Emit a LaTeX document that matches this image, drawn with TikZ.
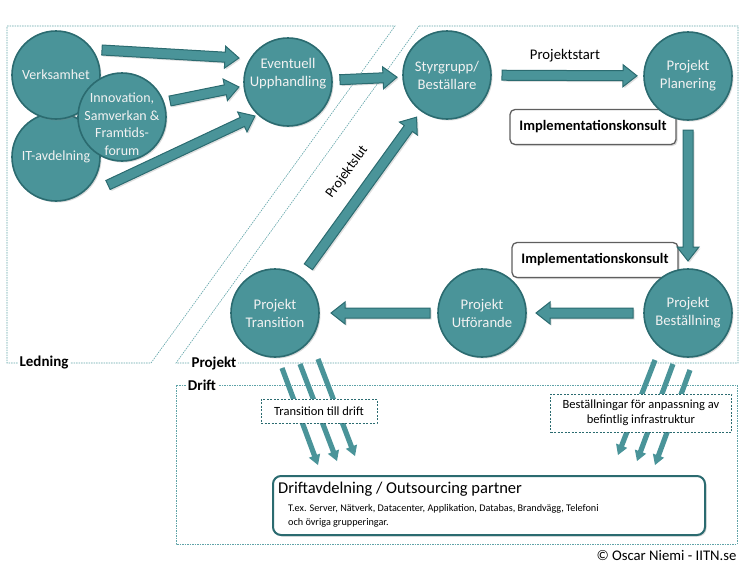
\documentclass[tikz,border=0pt]{standalone}
\usepackage{fontspec}
\setmainfont{Carlito}
\usetikzlibrary{positioning,calc,shadows}

\definecolor{tealfill}{HTML}{4A9499}
\definecolor{tealdark}{HTML}{2B6B70}
\definecolor{regionline}{HTML}{5FA3A8}
\definecolor{boxgray}{HTML}{5F5F5F}

\tikzset{
  circ/.style={circle, fill=tealfill, draw=tealdark, line width=1.6pt, minimum size=88pt,
    inner sep=0pt, text=white!95!black, align=center, font=\fontsize{14.7}{18}\selectfont,
    drop shadow={opacity=0.3, shadow xshift=1.5pt, shadow yshift=-1.5pt}},
  circ text/.style={text=white!95!black, align=center, inner sep=0pt, font=\fontsize{14.7}{18}\selectfont},
  small text/.style={font=\fontsize{14}{17.5}\selectfont},
  fat arrow/.style={fill=tealfill, draw=tealdark, line width=1pt, line join=miter,
    drop shadow={opacity=0.25, shadow xshift=1.5pt, shadow yshift=-1.5pt}},
  thin arrow/.style={fill=tealfill},
  region/.style={draw=regionline, line width=0.6pt, dash pattern=on 1.5pt off 1pt},
  region label/.style={fill=white, font=\bfseries\fontsize{15}{17}\selectfont, inner sep=2pt},
  konsult/.style={rectangle, rounded corners=5pt, draw=boxgray, line width=1.3pt, fill=white,
    minimum width=166pt, minimum height=35pt, font=\bfseries\fontsize{14.5}{16}\selectfont,
    drop shadow={opacity=0.3, shadow xshift=1.5pt, shadow yshift=-1.5pt}},
  driftlabel/.style={draw=tealdark, line width=0.7pt, dash pattern=on 2pt off 1.5pt,
    fill=white, font=\fontsize{12.5}{15}\selectfont, align=center},
  plain text/.style={font=\fontsize{14.7}{17}\selectfont},
}

% block arrow: style, shaft half width, head half width, head length, from, to
\newcommand{\blockarrow}[6]{%
  \coordinate (hb) at ($(#6)!#4!(#5)$);
  \path[#1] ($(#5)!#2!90:(#6)$) -- ($(hb)!#2!90:(#6)$) -- ($(hb)!#3!90:(#6)$) -- (#6)
    -- ($(hb)!#3!-90:(#6)$) -- ($(hb)!#2!-90:(#6)$) -- ($(#5)!#2!-90:(#6)$) -- cycle;}
\newcommand{\fatarrow}[2]{\blockarrow{fat arrow}{5pt}{11pt}{14pt}{#1}{#2}}
\newcommand{\thinarrow}[2]{\blockarrow{thin arrow}{2.6pt}{6pt}{10pt}{#1}{#2}}

\begin{document}
\begin{tikzpicture}[x=1pt, y=-1pt]
\useasboundingbox (0,0) rectangle (750,563);

% regions
\draw[region] (7,26) -- (395,26) -- (151,363) -- (7,363) -- cycle;
\node[region label] (ledning) at (44,363) {Ledning};
\draw[region] (419,26) -- (738,26) -- (738,363) -- (176,363) -- cycle;
\node[region label] (projekt) at (214,363) {Projekt};
\draw[region] (176,385) rectangle (737,544);
\node[region label] (drift) at (202,385) {Drift};

% consultant boxes (under the circles)
\node[konsult] (konsult1) at (593,127) {Implementationskonsult};
\node[konsult] (konsult2) at (595,260) {Implementationskonsult};

% circles
\node[circ, small text] (itavd) at (56,157) {IT-avdelning};
\node[circ, small text] (verk) at (56,75) {Verksamhet};
\node[circ] (innov) at (122,117) {};
\node[circ text, small text] (innovtext) at ([yshift=-7pt]innov.center) {Innovation,\\Samverkan \&\\Framtids-\\forum};
\node[circ] (upph) at (288,82) {};
\node[circ text] (upphtext) at ([yshift=8pt]upph.center) {Eventuell\\Upphandling};
\node[circ] (styr) at (447,75) {Styrgrupp/\\Beställare};
\node[circ] (plan) at (688,76) {Projekt\\Planering};
\node[circ] (best) at (688,313) {Projekt\\Beställning};
\node[circ] (utf) at (482,313) {Projekt\\Utförande};
\node[circ] (trans) at (275,313) {Projekt\\Transition};

% fat arrows
\coordinate (a1s) at (102,50);  \coordinate (a1e) at (239,58);
\coordinate (a2s) at (170,101); \coordinate (a2e) at (239,87);
\coordinate (a3s) at (108,185); \coordinate (a3e) at (255,116);
\fatarrow{a1s}{a1e}
\fatarrow{a2s}{a2e}
\fatarrow{a3s}{a3e}

\coordinate (b1s) at ($(upph)!52pt!(styr)$);  \coordinate (b1e) at ($(styr)!50pt!(upph)$);
\coordinate (b2s) at ($(styr)!55pt!(plan)$);  \coordinate (b2e) at ($(plan)!51pt!(styr)$);
\coordinate (b3s) at ($(plan)!54pt!(best)$);  \coordinate (b3e) at ($(best)!52pt!(plan)$);
\coordinate (b4s) at ($(best)!55pt!(utf)$);   \coordinate (b4e) at ($(utf)!54pt!(best)$);
\coordinate (b5s) at ($(utf)!52pt!(trans)$);  \coordinate (b5e) at ($(trans)!56pt!(utf)$);
\coordinate (b6s) at ($(trans)!57pt!(styr)$); \coordinate (b6e) at ($(styr)!52pt!(trans)$);
\foreach \k in {1,...,6} {
  \fatarrow{b\k s}{b\k e}
}

\node[plain text] (start) at (565,56) {Projektstart};
\node[font=\fontsize{14}{15}\selectfont, rotate=54] (slut) at (347,172) {Projektslut};

% thin arrows down to drift
\coordinate (t1s) at (282,368); \coordinate (t1e) at (318,465);
\coordinate (t2s) at (300,364); \coordinate (t2e) at (337,461);
\coordinate (t3s) at (318,359); \coordinate (t3e) at (355,456);
\coordinate (u1s) at (655,360); \coordinate (u1e) at (618,455);
\coordinate (u2s) at (673,364); \coordinate (u2e) at (637,461);
\coordinate (u3s) at (690,370); \coordinate (u3e) at (655,465);
\foreach \k in {1,2,3} {
  \thinarrow{t\k s}{t\k e}
  \thinarrow{u\k s}{u\k e}
}

\node[driftlabel, minimum width=116pt, minimum height=24pt] (translabel) at (319,411) {Transition till drift};
\node[driftlabel, minimum width=181pt, minimum height=38pt] (bestlabel) at (641,413)
  {Beställningar för anpassning av\\befintlig infrastruktur};

% drift box
\node[rectangle, rounded corners=8pt, draw=tealdark, line width=2pt, fill=white,
  minimum width=432pt, minimum height=59pt,
  drop shadow={opacity=0.3, shadow xshift=1.5pt, shadow yshift=-1.5pt}] (driftbox) at (489,505.5) {};
\node[anchor=base west, inner sep=0pt, font=\fontsize{16.5}{19}\selectfont] (drifttitle)
  at ([xshift=6pt, yshift=-18pt]driftbox.north west) {Driftavdelning / Outsourcing partner};
\node[anchor=north west, inner sep=0pt, align=left, font=\fontsize{10.2}{14}\selectfont] (driftsub)
  at ([xshift=16pt, yshift=-29pt]driftbox.north west)
  {T.ex. Server, Nätverk, Datacenter, Applikation, Databas, Brandvägg, Telefoni\\och övriga grupperingar.};

\node[anchor=east, plain text] (copy) at (740,555) {© Oscar Niemi - IITN.se};

\end{tikzpicture}
\end{document}
